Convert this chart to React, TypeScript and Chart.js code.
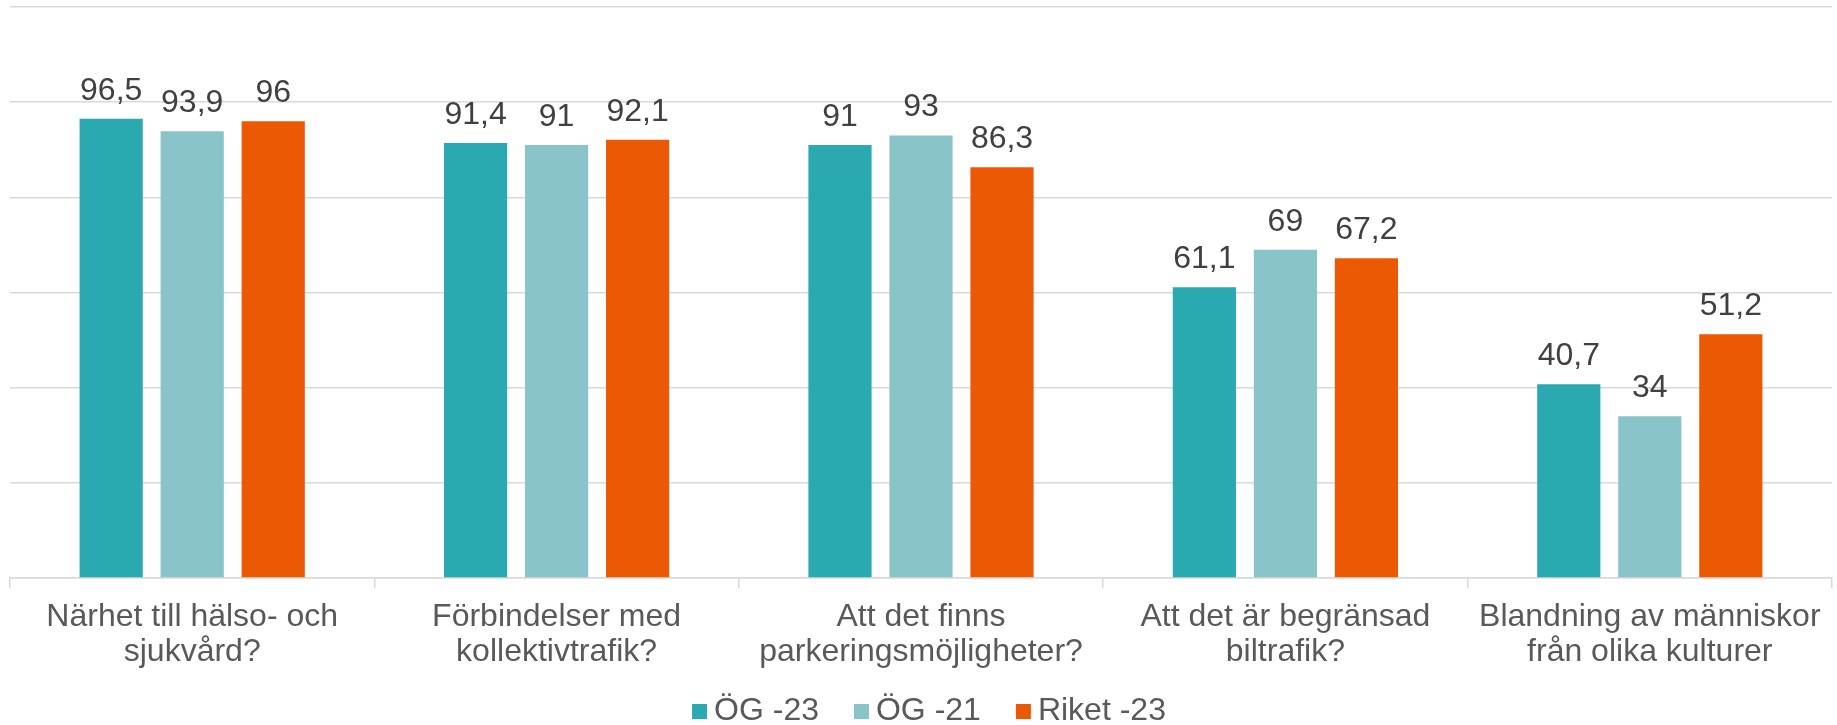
import React, { useEffect, useRef } from "react";
import { Chart, registerables } from "chart.js";

Chart.register(...registerables);

const categories: string[][] = [
  ["Närhet till hälso- och", "sjukvård?"],
  ["Förbindelser med", "kollektivtrafik?"],
  ["Att det finns", "parkeringsmöjligheter?"],
  ["Att det är begränsad", "biltrafik?"],
  ["Blandning av människor", "från olika kulturer"],
];
const seriesNames = ["ÖG -23", "ÖG -21", "Riket -23"];
const og23 = [96.5, 91.4, 91, 61.1, 40.7];
const og21 = [93.9, 91, 93, 69, 34];
const riket23 = [96, 92.1, 86.3, 67.2, 51.2];
const colors = ["#2AA9B1", "#89C4CA", "#EB5905"];

const FONT = "'Liberation Sans', Arial, sans-serif";
const LEGEND_CENTER_X = 929;
const LEGEND_BASELINE = 720;

const valueLabels = {
  id: "valueLabels",
  afterDatasetsDraw(chart: any) {
    const ctx = chart.ctx;
    ctx.save();
    ctx.font = `32px ${FONT}`;
    ctx.fillStyle = "#404040";
    ctx.textAlign = "center";
    ctx.textBaseline = "alphabetic";
    chart.data.datasets.forEach((ds: any, i: number) => {
      const meta = chart.getDatasetMeta(i);
      meta.data.forEach((bar: any, j: number) => {
        const v = ds.data[j] as number;
        const txt = String(v).replace(".", ",");
        ctx.fillText(txt, bar.x, bar.y - 19);
      });
    });
    ctx.restore();
  },
};

const customLegend = {
  id: "customLegend",
  afterDraw(chart: any) {
    const ctx = chart.ctx;
    ctx.save();
    ctx.font = `32px ${FONT}`;
    ctx.textBaseline = "alphabetic";
    ctx.textAlign = "left";
    const box = 15;
    const gapBoxText = 7;
    const gapItems = 35;
    const items = chart.data.datasets.map((ds: any) => ({
      label: ds.label as string,
      color: ds.backgroundColor as string,
      w: ctx.measureText(ds.label).width,
    }));
    const total =
      items.reduce((s: number, it: any) => s + box + gapBoxText + it.w, 0) +
      gapItems * (items.length - 1);
    let x = LEGEND_CENTER_X - total / 2;
    items.forEach((it: any) => {
      ctx.fillStyle = it.color;
      ctx.fillRect(x, LEGEND_BASELINE - 16, box, box);
      x += box + gapBoxText;
      ctx.fillStyle = "#595959";
      ctx.fillText(it.label, x, LEGEND_BASELINE);
      x += it.w + gapItems;
    });
    ctx.restore();
  },
};

export default function App() {
  const ref = useRef<HTMLCanvasElement | null>(null);
  useEffect(() => {
    document.body.style.margin = "0";
    const data = [og23, og21, riket23];
    const chart = new Chart(ref.current!, {
      type: "bar",
      data: {
        labels: categories,
        datasets: seriesNames.map((n, i) => ({
          label: n,
          data: data[i],
          backgroundColor: colors[i],
          borderWidth: 0,
          categoryPercentage: 0.667,
          barPercentage: 0.78,
        })),
      },
      options: {
        animation: false,
        responsive: false,
        maintainAspectRatio: false,
        layout: { padding: { left: 10, right: 5, top: 7, bottom: 43 } },
        plugins: {
          legend: { display: false },
          tooltip: { enabled: false },
        },
        scales: {
          x: {
            grid: {
              offset: true,
              drawOnChartArea: false,
              drawTicks: true,
              tickLength: 10,
              color: "#d9d9d9",
              lineWidth: 1.5,
            },
            border: { color: "#d9d9d9", width: 1.5 },
            ticks: {
              font: { family: FONT, size: 32, lineHeight: 1.094 },
              color: "#595959",
              maxRotation: 0,
              autoSkip: false,
              padding: 12,
            },
          },
          y: {
            min: 0,
            max: 120,
            ticks: { display: false, stepSize: 20 },
            grid: { color: "#d9d9d9", lineWidth: 1.5, drawTicks: false },
            border: { display: false },
          },
        },
      },
      plugins: [valueLabels, customLegend],
    });
    return () => chart.destroy();
  }, []);
  return <canvas ref={ref} width={1837} height={725} style={{ display: "block" }} />;
}
